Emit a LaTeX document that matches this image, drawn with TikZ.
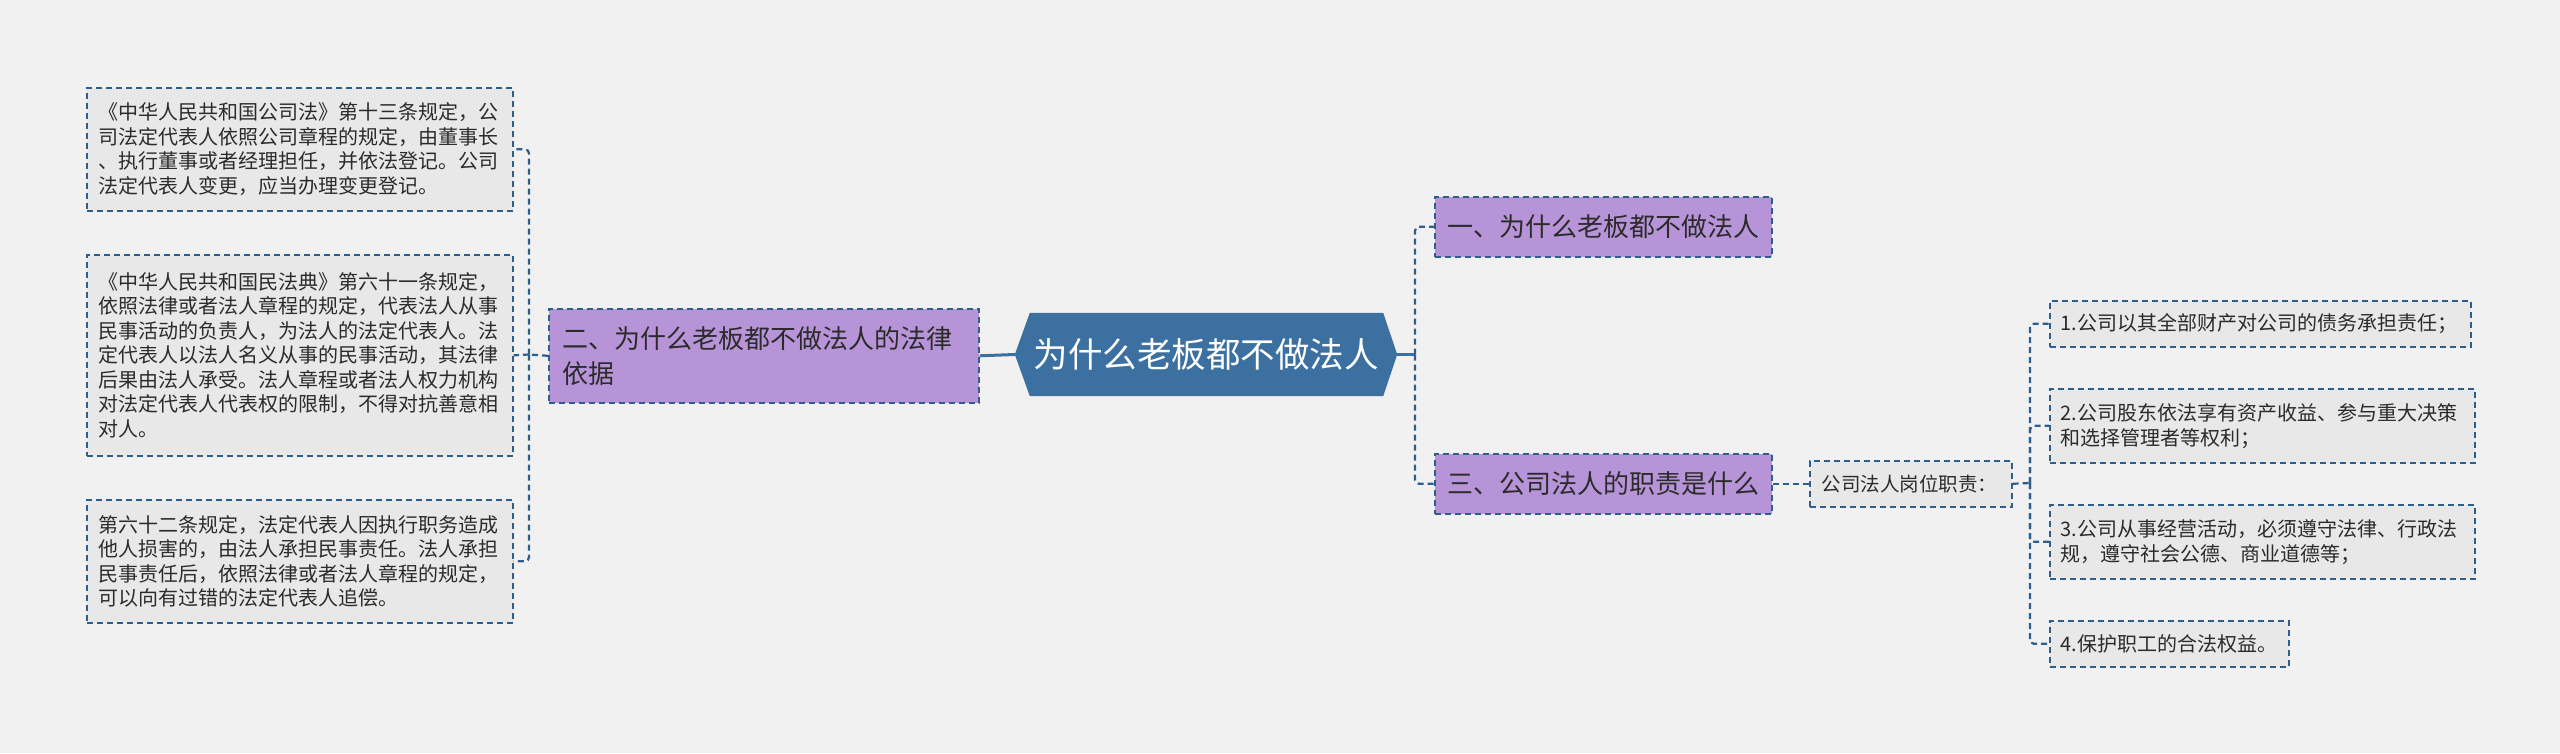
\documentclass[tikz,border=0pt]{standalone}
\usepackage{fontspec}
\setmainfont{Noto Sans CJK SC}
\usetikzlibrary{backgrounds}
\definecolor{bgc}{HTML}{F1F1F1}
\definecolor{leaffill}{HTML}{E8E8E8}
\definecolor{bordc}{HTML}{2E5E8C}
\definecolor{purp}{HTML}{B794D8}
\definecolor{hexc}{HTML}{3C70A0}
\definecolor{txt}{HTML}{2B2B2B}
\begin{document}
\begin{tikzpicture}[x=1pt,y=-1pt,
  box/.style={draw=bordc, line width=1.6pt, dash pattern=on 6pt off 4pt, anchor=north west, inner sep=0pt, text=txt, align=left},
  leaf/.style={box, fill=leaffill, font=\fontsize{20pt}{24.5pt}\selectfont},
  item/.style={box, fill=leaffill, font=\fontsize{20pt}{25pt}\selectfont},
  topic/.style={box, fill=purp, font=\fontsize{26pt}{35pt}\selectfont},
  conn/.style={draw=bordc, line width=2.2pt, dash pattern=on 6pt off 4pt, rounded corners=4pt},
  solidconn/.style={draw=hexc, line width=3pt}
]
\useasboundingbox (0,0) rectangle (2560,753);

% leaves on the left
\node[leaf, minimum width=426pt, minimum height=123pt, text width=402pt] (l1) at (86,87)
  {《中华人民共和国公司法》第十三条规定，公\\司法定代表人依照公司章程的规定，由董事长\\、执行董事或者经理担任，并依法登记。公司\\法定代表人变更，应当办理变更登记。};
\node[leaf, minimum width=426pt, minimum height=201pt, text width=402pt] (l2) at (86,254)
  {《中华人民共和国民法典》第六十一条规定，\\依照法律或者法人章程的规定，代表法人从事\\民事活动的负责人，为法人的法定代表人。法\\定代表人以法人名义从事的民事活动，其法律\\后果由法人承受。法人章程或者法人权力机构\\对法定代表人代表权的限制，不得对抗善意相\\对人。};
\node[leaf, minimum width=426pt, minimum height=123pt, text width=402pt] (l3) at (86,499)
  {第六十二条规定，法定代表人因执行职务造成\\他人损害的，由法人承担民事责任。法人承担\\民事责任后，依照法律或者法人章程的规定，\\可以向有过错的法定代表人追偿。};

% topic 2
\node[topic, minimum width=430pt, minimum height=94pt, text width=402pt] (n2) at (548,308)
  {二、为什么老板都不做法人的法律\\依据};

% center
\node[minimum width=382pt, minimum height=83pt, inner sep=0pt, text=white, font=\fontsize{34.5pt}{40pt}\selectfont] (c) at (1206,354.5) {为什么老板都不做法人};

% topics 1 and 3
\node[topic, minimum width=337pt, minimum height=60pt, text width=311pt] (n1) at (1434,196) {一、为什么老板都不做法人};
\node[topic, minimum width=337pt, minimum height=60pt, text width=311pt] (n3) at (1434,453) {三、公司法人的职责是什么};

% sub node
\node[item, fill=leaffill, minimum width=202pt, minimum height=46pt, text width=178pt, font=\fontsize{19.5pt}{24pt}\selectfont] (g) at (1809,460) {公司法人岗位职责：};

% items
\node[item, minimum width=421pt, minimum height=46pt, text width=399pt] (i1) at (2049,300) {1.公司以其全部财产对公司的债务承担责任；};
\node[item, minimum width=425pt, minimum height=74pt, text width=403pt] (i2) at (2049,388) {2.公司股东依法享有资产收益、参与重大决策\\和选择管理者等权利；};
\node[item, minimum width=425pt, minimum height=74pt, text width=403pt] (i3) at (2049,504) {3.公司从事经营活动，必须遵守法律、行政法\\规，遵守社会公德、商业道德等；};
\node[item, minimum width=239pt, minimum height=46pt, text width=217pt] (i4) at (2049,620) {4.保护职工的合法权益。};

\begin{scope}[on background layer]
  \fill[bgc] (0,0) rectangle (2560,753);
  \fill[hexc] (c.west) -- ([xshift=15pt]c.north west) -- ([xshift=-14pt]c.north east) -- (c.east)
     -- ([xshift=-14pt]c.south east) -- ([xshift=15pt]c.south west) -- cycle;
\end{scope}

% connectors
\coordinate (lb) at (529,354.5);
\coordinate (rb) at (1415,354.5);
\coordinate (ib) at (2030,483);
\draw[solidconn] (n2.east) -- (c.west);
\draw[solidconn] (c.east) -- (rb);
\draw[conn] (n2.west) -- (lb);
\draw[conn] (lb) |- (l1.east);
\draw[conn] (lb) -- (l2.east);
\draw[conn] (lb) |- (l3.east);
\draw[conn] (rb) |- (n1.west);
\draw[conn] (rb) |- (n3.west);
\draw[conn] (n3.east) -- (g.west);
\draw[conn] (g.east) -- (ib);
\draw[conn] (ib) |- (i1.west);
\draw[conn] (ib) |- (i2.west);
\draw[conn] (ib) |- (i3.west);
\draw[conn] (ib) |- (i4.west);
\end{tikzpicture}
\end{document}
